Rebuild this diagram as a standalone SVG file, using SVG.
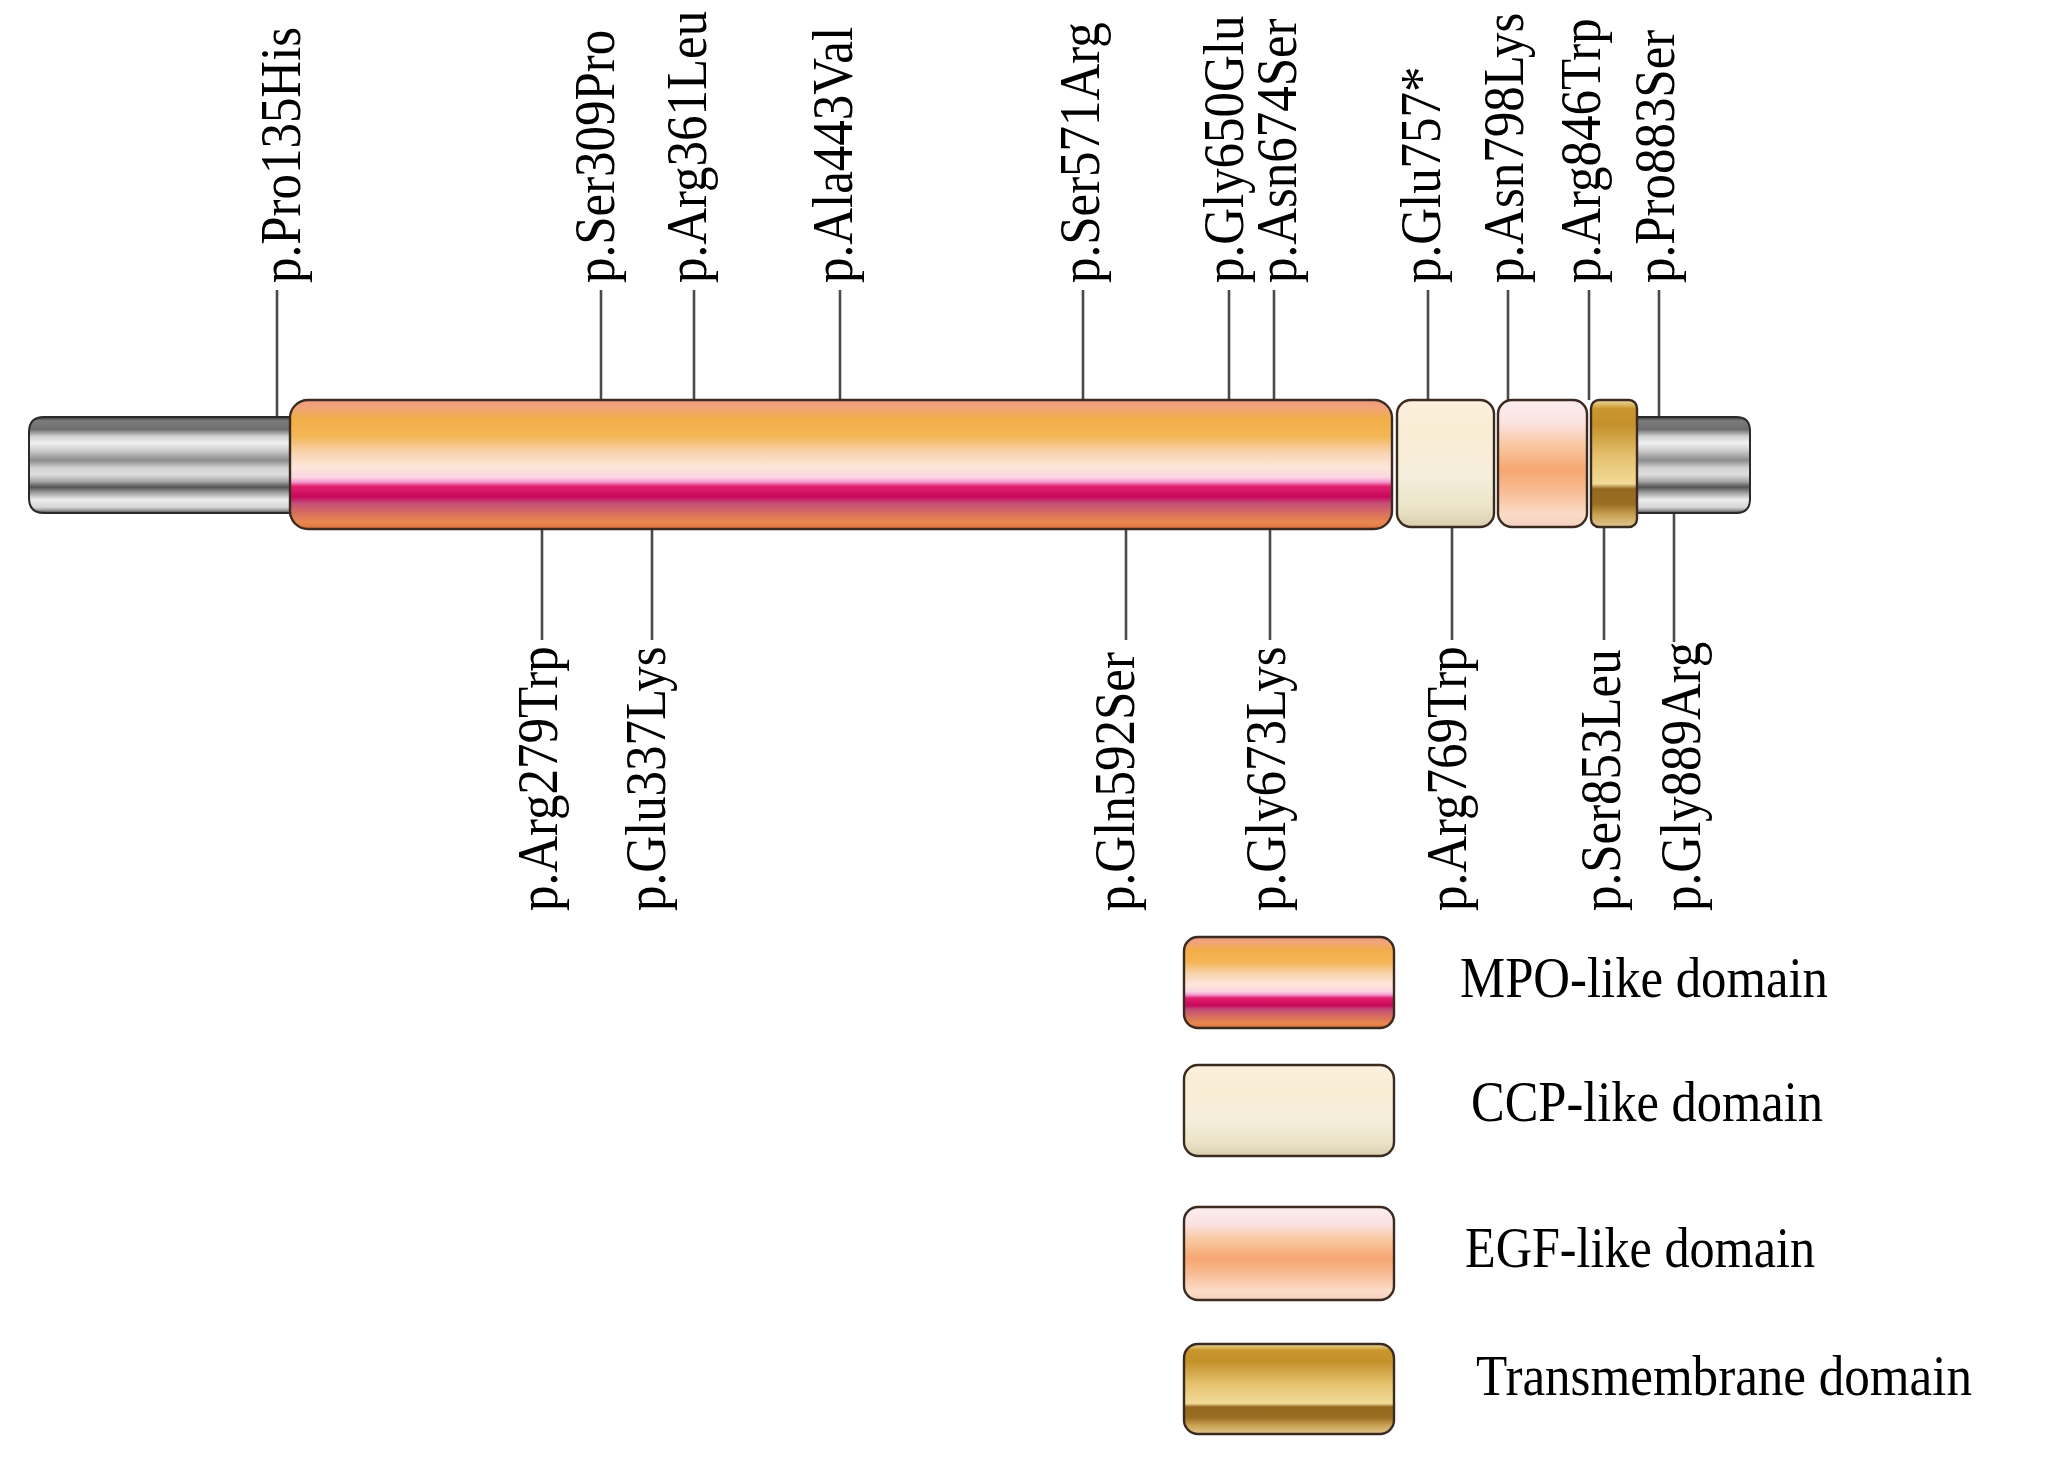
<svg xmlns="http://www.w3.org/2000/svg" width="2048" height="1462" viewBox="0 0 2048 1462">
<defs>
<style>
.lbl{font-family:"Liberation Serif","Times New Roman",serif;font-size:56px;fill:#000}
.leg{font-family:"Liberation Serif","Times New Roman",serif;font-size:57px;fill:#000}
.ln{stroke:#4a4a4a;stroke-width:2.6;fill:none}
.dom{stroke:#3a2a20;stroke-width:2.4}
</style>
<linearGradient id="gGray" x1="0" y1="0" x2="0" y2="1">
<stop offset="0" stop-color="#3a3a3a"/>
<stop offset="0.04" stop-color="#7c7c7c"/>
<stop offset="0.13" stop-color="#6e6e6e"/>
<stop offset="0.2" stop-color="#cfcfcf"/>
<stop offset="0.27" stop-color="#f0f0f0"/>
<stop offset="0.35" stop-color="#cdcdcd"/>
<stop offset="0.45" stop-color="#8c8c8c"/>
<stop offset="0.53" stop-color="#d2d2d2"/>
<stop offset="0.6" stop-color="#dedede"/>
<stop offset="0.67" stop-color="#a8a8a8"/>
<stop offset="0.73" stop-color="#545454"/>
<stop offset="0.79" stop-color="#a0a0a0"/>
<stop offset="0.86" stop-color="#ececec"/>
<stop offset="0.94" stop-color="#d6d6d6"/>
<stop offset="0.98" stop-color="#8a8a8a"/>
<stop offset="1" stop-color="#2a2a2a"/>
</linearGradient>
<linearGradient id="gMPO" x1="0" y1="0" x2="0" y2="1">
<stop offset="0" stop-color="#ee9c80"/>
<stop offset="0.06" stop-color="#f0a478"/>
<stop offset="0.15" stop-color="#f2ae48"/>
<stop offset="0.28" stop-color="#f4b656"/>
<stop offset="0.4" stop-color="#f8d2ac"/>
<stop offset="0.52" stop-color="#fde6da"/>
<stop offset="0.6" stop-color="#fbd4e2"/>
<stop offset="0.635" stop-color="#f49ad0"/>
<stop offset="0.67" stop-color="#e2206e"/>
<stop offset="0.75" stop-color="#c8085a"/>
<stop offset="0.8" stop-color="#c44e78"/>
<stop offset="0.88" stop-color="#d8705e"/>
<stop offset="0.95" stop-color="#e8884e"/>
<stop offset="1" stop-color="#dc7040"/>
</linearGradient>
<linearGradient id="gCCP" x1="0" y1="0" x2="0" y2="1">
<stop offset="0" stop-color="#fbf0dc"/>
<stop offset="0.3" stop-color="#f9ecd4"/>
<stop offset="0.6" stop-color="#f4eedc"/>
<stop offset="0.85" stop-color="#ebe4c8"/>
<stop offset="1" stop-color="#d8ceb0"/>
</linearGradient>
<linearGradient id="gEGF" x1="0" y1="0" x2="0" y2="1">
<stop offset="0" stop-color="#fbeeee"/>
<stop offset="0.18" stop-color="#fbe2e2"/>
<stop offset="0.35" stop-color="#f9c8a2"/>
<stop offset="0.55" stop-color="#f6a672"/>
<stop offset="0.72" stop-color="#f8bc94"/>
<stop offset="0.9" stop-color="#fbdcc8"/>
<stop offset="1" stop-color="#f4d0c0"/>
</linearGradient>
<linearGradient id="gTM" x1="0" y1="0" x2="0" y2="1">
<stop offset="0" stop-color="#f0dca0"/>
<stop offset="0.07" stop-color="#c8962c"/>
<stop offset="0.2" stop-color="#c4922a"/>
<stop offset="0.45" stop-color="#e6c270"/>
<stop offset="0.66" stop-color="#f2da98"/>
<stop offset="0.7" stop-color="#94681e"/>
<stop offset="0.82" stop-color="#9a6e22"/>
<stop offset="0.9" stop-color="#c8a050"/>
<stop offset="1" stop-color="#e0c890"/>
</linearGradient>
</defs>
<rect width="2048" height="1462" fill="#fff"/>

<g id="connectors">
<line class="ln" x1="277" y1="290" x2="277" y2="417"/>
<line class="ln" x1="601" y1="290" x2="601" y2="400"/>
<line class="ln" x1="694" y1="290" x2="694" y2="400"/>
<line class="ln" x1="840" y1="290" x2="840" y2="400"/>
<line class="ln" x1="1083" y1="290" x2="1083" y2="400"/>
<line class="ln" x1="1229" y1="290" x2="1229" y2="400"/>
<line class="ln" x1="1274" y1="290" x2="1274" y2="400"/>
<line class="ln" x1="1428" y1="290" x2="1428" y2="400"/>
<line class="ln" x1="1508" y1="290" x2="1508" y2="400"/>
<line class="ln" x1="1589" y1="290" x2="1589" y2="400"/>
<line class="ln" x1="1659" y1="290" x2="1659" y2="417"/>
<line class="ln" x1="542" y1="528" x2="542" y2="640"/>
<line class="ln" x1="652" y1="528" x2="652" y2="640"/>
<line class="ln" x1="1126" y1="528" x2="1126" y2="640"/>
<line class="ln" x1="1270" y1="528" x2="1270" y2="640"/>
<line class="ln" x1="1452" y1="527" x2="1452" y2="640"/>
<line class="ln" x1="1604" y1="527" x2="1604" y2="640"/>
<line class="ln" x1="1674" y1="513" x2="1674" y2="642"/>
</g>

<g id="tube-left"><path d="M292,417 H44 Q29,417 29,432 V498 Q29,513 44,513 H292 Z" fill="url(#gGray)" stroke="#2a2a2a" stroke-width="2"/></g>
<g id="tube-right"><path d="M1634,417 H1736 Q1750,417 1750,431 V499 Q1750,513 1736,513 H1634 Z" fill="url(#gGray)" stroke="#2a2a2a" stroke-width="2"/></g>
<g id="mpo-domain"><rect class="dom" x="290" y="400" width="1102" height="129" rx="18" fill="url(#gMPO)"/></g>
<g id="ccp-domain"><rect class="dom" x="1397" y="400" width="97" height="127" rx="14" fill="url(#gCCP)"/></g>
<g id="egf-domain"><rect class="dom" x="1498" y="400" width="89" height="127" rx="14" fill="url(#gEGF)"/></g>
<g id="tm-domain"><rect class="dom" x="1591" y="400" width="46" height="127" rx="8" fill="url(#gTM)"/></g>

<g id="labels-top">
<text class="lbl" transform="translate(300,283) rotate(-90) scale(0.91,1)">p.Pro135His</text>
<text class="lbl" transform="translate(614,283) rotate(-90) scale(0.91,1)">p.Ser309Pro</text>
<text class="lbl" transform="translate(706,283) rotate(-90) scale(0.91,1)">p.Arg361Leu</text>
<text class="lbl" transform="translate(852,283) rotate(-90) scale(0.91,1)">p.Ala443Val</text>
<text class="lbl" transform="translate(1099,283) rotate(-90) scale(0.91,1)">p.Ser571Arg</text>
<text class="lbl" transform="translate(1243,283) rotate(-90) scale(0.91,1)">p.Gly650Glu</text>
<text class="lbl" transform="translate(1296,283) rotate(-90) scale(0.91,1)">p.Asn674Ser</text>
<text class="lbl" transform="translate(1440,283) rotate(-90) scale(0.91,1)">p.Glu757*</text>
<text class="lbl" transform="translate(1523,283) rotate(-90) scale(0.91,1)">p.Asn798Lys</text>
<text class="lbl" transform="translate(1600,283) rotate(-90) scale(0.91,1)">p.Arg846Trp</text>
<text class="lbl" transform="translate(1674,283) rotate(-90) scale(0.91,1)">p.Pro883Ser</text>
</g>
<g id="labels-bottom">
<text class="lbl" transform="translate(557,911) rotate(-90) scale(0.91,1)">p.Arg279Trp</text>
<text class="lbl" transform="translate(665,911) rotate(-90) scale(0.91,1)">p.Glu337Lys</text>
<text class="lbl" transform="translate(1134,911) rotate(-90) scale(0.91,1)">p.Gln592Ser</text>
<text class="lbl" transform="translate(1285,911) rotate(-90) scale(0.91,1)">p.Gly673Lys</text>
<text class="lbl" transform="translate(1466,911) rotate(-90) scale(0.91,1)">p.Arg769Trp</text>
<text class="lbl" transform="translate(1620,911) rotate(-90) scale(0.91,1)">p.Ser853Leu</text>
<text class="lbl" transform="translate(1700,911) rotate(-90) scale(0.91,1)">p.Gly889Arg</text>
</g>

<g id="legend-mpo">
<rect class="dom" x="1184" y="937" width="210" height="91" rx="14" fill="url(#gMPO)"/>
<text class="leg" x="1460" y="997" textLength="368" lengthAdjust="spacingAndGlyphs">MPO-like domain</text>
</g>
<g id="legend-ccp">
<rect class="dom" x="1184" y="1065" width="210" height="91" rx="14" fill="url(#gCCP)"/>
<text class="leg" x="1471" y="1121" textLength="352" lengthAdjust="spacingAndGlyphs">CCP-like domain</text>
</g>
<g id="legend-egf">
<rect class="dom" x="1184" y="1207" width="210" height="93" rx="14" fill="url(#gEGF)"/>
<text class="leg" x="1465" y="1267" textLength="350" lengthAdjust="spacingAndGlyphs">EGF-like domain</text>
</g>
<g id="legend-tm">
<rect class="dom" x="1184" y="1344" width="210" height="90" rx="14" fill="url(#gTM)"/>
<text class="leg" x="1476" y="1395" textLength="496" lengthAdjust="spacingAndGlyphs">Transmembrane domain</text>
</g>
</svg>
